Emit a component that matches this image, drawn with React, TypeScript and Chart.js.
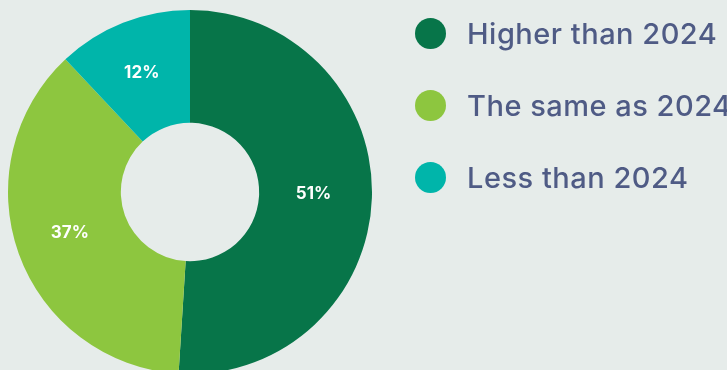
import React, { useEffect, useRef } from "react";
import { Chart, registerables } from "chart.js";

Chart.register(...registerables);

const categories = ["Higher than 2024", "The same as 2024", "Less than 2024"];
const values = [51, 37, 12];
const colors = ["#077549", "#8dc63f", "#00b5aa"];
const BG = "#e6ecea";
const TEXT = "#4f5b85";

const labelPlugin = {
  id: "sliceLabels",
  afterDatasetsDraw(chart: any) {
    const ctx = chart.ctx;
    const meta = chart.getDatasetMeta(0);
    ctx.save();
    ctx.fillStyle = "#ffffff";
    ctx.font = "bold 17px Inter, 'Noto Sans', sans-serif";
    ctx.textAlign = "center";
    ctx.textBaseline = "middle";
    meta.data.forEach((arc: any, i: number) => {
      const p = arc.tooltipPosition();
      ctx.fillText(values[i] + "%", p.x - 2, p.y - 2);
    });
    ctx.restore();
  },
};

export default function App() {
  const ref = useRef<HTMLCanvasElement | null>(null);
  useEffect(() => {
    if (!ref.current) return;
    const chart = new Chart(ref.current, {
      type: "doughnut",
      data: {
        labels: categories,
        datasets: [
          {
            data: values,
            backgroundColor: colors,
            borderWidth: 0,
          },
        ],
      },
      options: {
        responsive: false,
        animation: false,
        cutout: "38%",
        layout: { padding: { left: 8, right: 355, top: 10, bottom: 10 } },
        plugins: { legend: { display: false }, tooltip: { enabled: false } },
      },
      plugins: [labelPlugin],
    });
    return () => chart.destroy();
  }, []);

  return (
    <div
      style={{
        position: "fixed",
        left: 0,
        top: 0,
        width: 727,
        height: 370,
        overflow: "hidden",
        background: BG,
      }}
    >
      <canvas ref={ref} width={727} height={384} style={{ position: "absolute", left: 0, top: 0 }} />
      {categories.map((c, i) => (
        <div
          key={c}
          style={{
            position: "absolute",
            left: 415,
            top: 17 + i * 72,
            height: 32,
            display: "flex",
            alignItems: "center",
            fontFamily: "Inter, 'Noto Sans', sans-serif",
            fontWeight: 500,
            fontSize: 29,
            letterSpacing: 0.5,
            color: TEXT,
            whiteSpace: "nowrap",
          }}
        >
          <span
            style={{
              display: "inline-block",
              width: 31,
              height: 31,
              borderRadius: "50%",
              background: colors[i],
              marginRight: 21,
              flexShrink: 0,
            }}
          />
          <span>{c}</span>
        </div>
      ))}
    </div>
  );
}
